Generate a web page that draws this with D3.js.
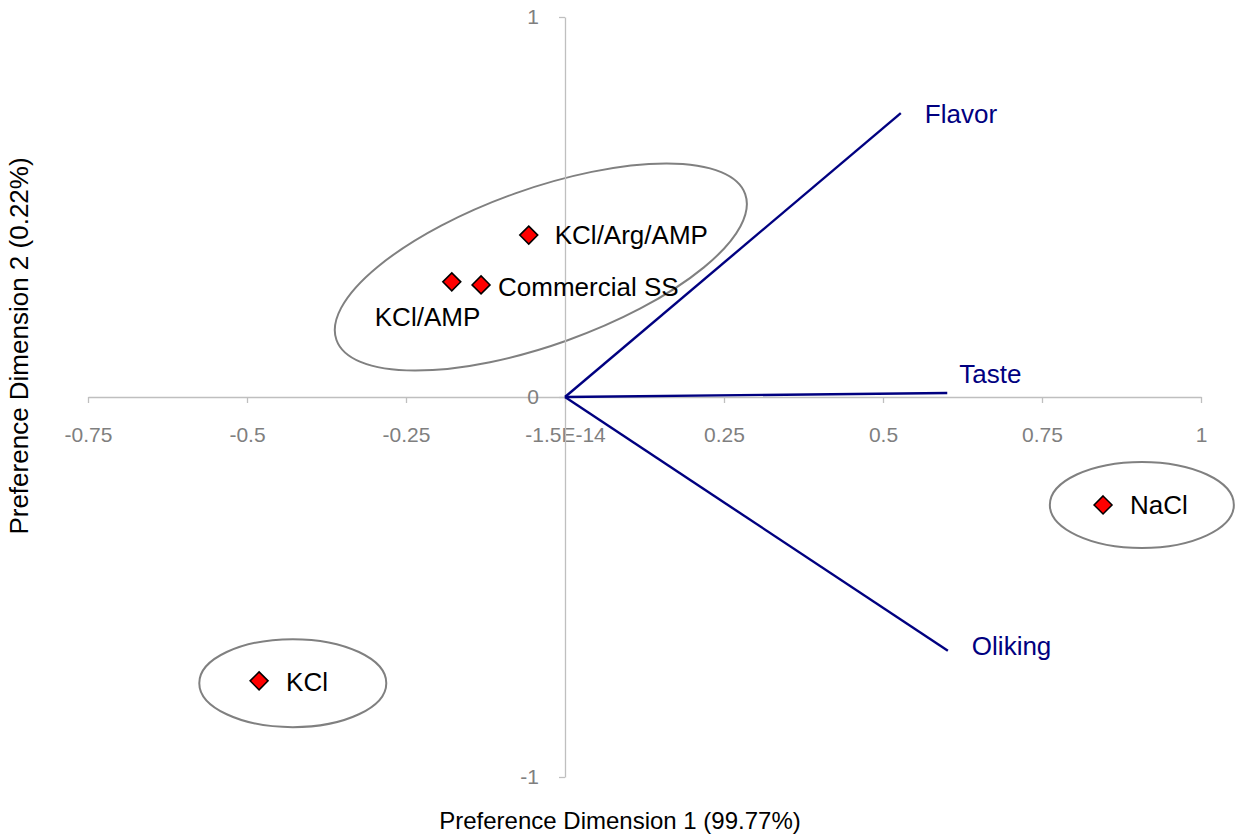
<!DOCTYPE html>
<html>
<head>
<meta charset="utf-8">
<script src="https://cdn.jsdelivr.net/npm/d3@7"></script>
<style>
  html, body { margin: 0; padding: 0; background: #fff; }
  svg { display: block; font-family: "Liberation Sans", Arial, sans-serif; }
</style>
</head>
<body>
<svg id="chart" width="1236" height="836"></svg>
<script>
// Preference map: products (points) and attribute vectors
const products = ["KCl/Arg/AMP", "KCl/AMP", "Commercial SS", "NaCl", "KCl"];
const dim1 = [-0.057, -0.178, -0.132, 0.846, -0.481];
const dim2 = [0.426, 0.303, 0.295, -0.284, -0.747];

const attributes = ["Flavor", "Taste", "Oliking"];
const attrDim1 = [0.528, 0.601, 0.602];
const attrDim2 = [0.747, 0.0105, -0.668];

const xTickValues = [-0.75, -0.5, -0.25, 0, 0.25, 0.5, 0.75, 1];
const xTickLabels = ["-0.75", "-0.5", "-0.25", "-1.5E-14", "0.25", "0.5", "0.75", "1"];
const yTickValues = [-1, 0, 1];
const yTickLabels = ["-1", "0", "1"];

// Grouping ellipses (centres in data units)
const groupCx = [-0.038, 0.907, -0.428];
const groupCy = [0.342, -0.284, -0.753];

// Layout
const svg = d3.select("#chart");
const x = d3.scaleLinear().domain([-0.75, 1]).range([88, 1201]);
const y = d3.scaleLinear().domain([-1, 1]).range([777, 17]);

const axisColor = "#bfbfbf";
const tickText = "#7f7f7f";
const navy = "#000080";

// Grouping ellipses: radii and rotation in pixels / degrees
const groupShape = [
  { rx: 217, ry: 78, rot: -19.65 },
  { rx: 92, ry: 43, rot: 0 },
  { rx: 93.5, ry: 44, rot: 0 }
];
svg.append("g").selectAll("ellipse")
  .data(groupCx.map((cx, i) => ({ cx, cy: groupCy[i], ...groupShape[i] })))
  .join("ellipse")
  .attr("transform", d => `translate(${x(d.cx)},${y(d.cy)}) rotate(${d.rot})`)
  .attr("rx", d => d.rx)
  .attr("ry", d => d.ry)
  .attr("fill", "none")
  .attr("stroke", "#808080")
  .attr("stroke-width", 2);

// X axis through y = 0
const xAxis = svg.append("g")
  .attr("transform", `translate(0,${y(0)})`)
  .call(d3.axisBottom(x)
    .tickValues(xTickValues)
    .tickFormat((d, i) => xTickLabels[i])
    .tickSize(6)
    .tickSizeOuter(0));
xAxis.select(".domain").attr("stroke", axisColor).attr("stroke-width", 1.3);
xAxis.selectAll(".tick line").attr("stroke", axisColor).attr("stroke-width", 1.3);
xAxis.selectAll(".tick text")
  .attr("fill", tickText)
  .attr("font-size", 21)
  .attr("font-family", "Liberation Sans, Arial, sans-serif")
  .attr("y", 45)
  .attr("dy", 0);

// Y axis through x = 0
const yAxis = svg.append("g")
  .attr("transform", `translate(${x(0)},0)`)
  .call(d3.axisLeft(y)
    .tickValues(yTickValues)
    .tickFormat((d, i) => yTickLabels[i])
    .tickSize(6)
    .tickSizeOuter(0));
yAxis.select(".domain").attr("stroke", axisColor).attr("stroke-width", 1.3);
yAxis.selectAll(".tick line").attr("stroke", axisColor).attr("stroke-width", 1.3);
yAxis.selectAll(".tick text")
  .attr("fill", tickText)
  .attr("font-size", 21)
  .attr("font-family", "Liberation Sans, Arial, sans-serif")
  .attr("x", -26);

// Attribute vectors from the origin
const attrData = attributes.map((name, i) => ({ name, a: attrDim1[i], b: attrDim2[i] }));
svg.append("g").selectAll("line")
  .data(attrData)
  .join("line")
  .attr("x1", x(0)).attr("y1", y(0))
  .attr("x2", d => x(d.a)).attr("y2", d => y(d.b))
  .attr("stroke", navy)
  .attr("stroke-width", 2.4);

// Attribute label offsets (pixels from the vector tip, baseline)
const attrLabelOffset = { "Flavor": [24, 10], "Taste": [12, -10], "Oliking": [24, 4] };
svg.append("g").selectAll("text")
  .data(attrData)
  .join("text")
  .attr("x", d => x(d.a) + attrLabelOffset[d.name][0])
  .attr("y", d => y(d.b) + attrLabelOffset[d.name][1])
  .attr("fill", navy)
  .attr("font-size", 26)
  .text(d => d.name);

// Product markers
const prodData = products.map((name, i) => ({ name, a: dim1[i], b: dim2[i] }));
const r = 9;
svg.append("g").selectAll("path")
  .data(prodData)
  .join("path")
  .attr("transform", d => `translate(${x(d.a)},${y(d.b)})`)
  .attr("d", `M0,${-r}L${r},0L0,${r}L${-r},0Z`)
  .attr("fill", "#ff0000")
  .attr("stroke", "#000")
  .attr("stroke-width", 1.5);

// Product label offsets (pixels from the marker, baseline)
const prodLabelOffset = {
  "KCl/Arg/AMP": [26, 9],
  "KCl/AMP": [-77, 44],
  "Commercial SS": [17, 11],
  "NaCl": [27, 9],
  "KCl": [27, 10]
};
svg.append("g").selectAll("text")
  .data(prodData)
  .join("text")
  .attr("x", d => x(d.a) + prodLabelOffset[d.name][0])
  .attr("y", d => y(d.b) + prodLabelOffset[d.name][1])
  .attr("fill", "#000")
  .attr("font-size", 26)
  .text(d => d.name);

// Axis titles
svg.append("text")
  .attr("x", 620)
  .attr("y", 829)
  .attr("text-anchor", "middle")
  .attr("font-size", 24)
  .attr("fill", "#000")
  .text("Preference Dimension 1 (99.77%)");

svg.append("text")
  .attr("transform", "translate(28,346) rotate(-90)")
  .attr("text-anchor", "middle")
  .attr("font-size", 26)
  .attr("fill", "#000")
  .text("Preference Dimension 2 (0.22%)");
</script>
</body>
</html>
